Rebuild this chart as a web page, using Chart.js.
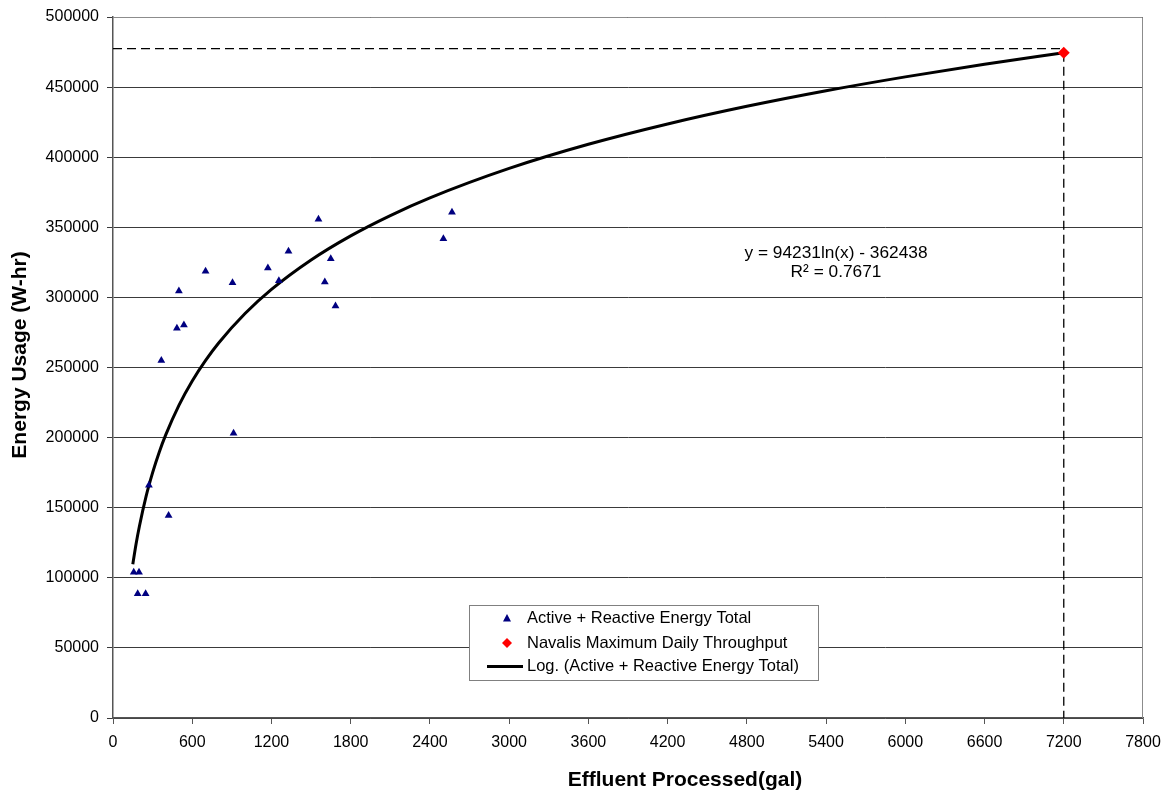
<!DOCTYPE html>
<html>
<head>
<meta charset="utf-8">
<script src="https://cdn.jsdelivr.net/npm/chart.js@4.4.1/dist/chart.umd.min.js"></script>
<style>
html,body{margin:0;padding:0;background:#fff;}
#wrap{width:1165px;height:793px;position:relative;}
</style>
</head>
<body>
<div id="wrap"><canvas id="c" width="1165" height="793"></canvas></div>
<script>
// Measured points: Active + Reactive Energy Total
const effluentX = [157, 197, 187, 247, 272, 421, 366, 484, 537, 499, 701, 905, 913, 1173, 1256, 1329, 1556, 1649, 1604, 1685, 2502, 2567];
const energyY = [104000, 104000, 88600, 88600, 166000, 144500, 255000, 278000, 280400, 304500, 318600, 310400, 203100, 321000, 311900, 332900, 355700, 327600, 311000, 293800, 341900, 360700];

// Navalis maximum daily throughput
const navalisX = [7200];
const navalisY = [474500];

// Logarithmic trend line
const trendX = [150, 175, 200, 250, 300, 350, 400, 500, 600, 700, 800, 1000, 1200, 1500, 1800, 2100, 2400, 3000, 3600, 4200, 4800, 5400, 6000, 6600, 7200];
const trendY = [109700, 124300, 136800, 157900, 175000, 189600, 202100, 223200, 240400, 254900, 267500, 288500, 305700, 326700, 343900, 358400, 371000, 392000, 409200, 423700, 436300, 447400, 457300, 466300, 474500];

// Dashed guide lines
const guideHX = [0, 7200];
const guideHY = [477500, 477500];
const guideVX = [7200, 7200];
const guideVY = [474500, 0];

const legendLabels = ['Active + Reactive Energy Total', 'Navalis Maximum Daily Throughput', 'Log. (Active + Reactive Energy Total)'];
const eqLines = ['y = 94231ln(x) - 362438', 'R\u00B2 = 0.7671'];
const xTitle = 'Effluent Processed(gal)';
const yTitle = 'Energy Usage (W-hr)';

const FONT = 'Arial, "Liberation Sans", sans-serif';
const toXY = (xs, ys) => xs.map((x, i) => ({x: x, y: ys[i]}));

const extras = {
  id: 'extras',
  afterDraw(chart) {
    const ctx = chart.ctx;
    const ca = chart.chartArea;
    ctx.save();
    // plot frame top / right
    ctx.strokeStyle = '#8c8c8c';
    ctx.lineWidth = 1;
    ctx.beginPath();
    ctx.moveTo(ca.left, ca.top + 0.5);
    ctx.lineTo(ca.right - 0.5, ca.top + 0.5);
    ctx.lineTo(ca.right - 0.5, ca.bottom);
    ctx.stroke();
    // axis titles
    ctx.fillStyle = '#000';
    ctx.font = 'bold 21px ' + FONT;
    ctx.textAlign = 'center';
    ctx.textBaseline = 'middle';
    ctx.fillText(xTitle, 685, 780);
    ctx.save();
    ctx.translate(20, 355);
    ctx.rotate(-Math.PI / 2);
    ctx.fillText(yTitle, 0, 0);
    ctx.restore();
    // equation
    ctx.font = '17.3px ' + FONT;
    ctx.fillText(eqLines[0], 836, 253);
    ctx.fillText(eqLines[1], 836, 272);
    // legend
    const lx = 469.5, ly = 605.5, lw = 349, lh = 75;
    ctx.fillStyle = '#fff';
    ctx.fillRect(lx, ly, lw, lh);
    ctx.strokeStyle = '#808080';
    ctx.strokeRect(lx, ly, lw, lh);
    const rows = [618.5, 643, 666.5];
    ctx.font = '16.5px ' + FONT;
    ctx.textAlign = 'left';
    ctx.fillStyle = '#000';
    legendLabels.forEach((t, i) => ctx.fillText(t, 527, rows[i]));
    // markers
    ctx.fillStyle = '#000080';
    ctx.beginPath();
    ctx.moveTo(507, rows[0] - 4.5);
    ctx.lineTo(511, rows[0] + 3);
    ctx.lineTo(503, rows[0] + 3);
    ctx.closePath();
    ctx.fill();
    ctx.fillStyle = '#ff0000';
    ctx.beginPath();
    ctx.moveTo(507, rows[1] - 5);
    ctx.lineTo(512, rows[1]);
    ctx.lineTo(507, rows[1] + 5);
    ctx.lineTo(502, rows[1]);
    ctx.closePath();
    ctx.fill();
    ctx.strokeStyle = '#000';
    ctx.lineWidth = 3;
    ctx.beginPath();
    ctx.moveTo(487, rows[2]);
    ctx.lineTo(523, rows[2]);
    ctx.stroke();
    ctx.restore();
  }
};

new Chart(document.getElementById('c'), {
  type: 'scatter',
  data: {
    datasets: [
      {
        label: 'guideH', data: toXY(guideHX, guideHY), showLine: true,
        borderColor: '#000', borderWidth: 1.3, borderDash: [9, 5], pointRadius: 0, fill: false, order: 5
      },
      {
        label: 'guideV', data: toXY(guideVX, guideVY), showLine: true,
        borderColor: '#000', borderWidth: 1.3, borderDash: [9, 5], pointRadius: 0, fill: false, order: 5
      },
      {
        label: legendLabels[2], data: toXY(trendX, trendY), showLine: true,
        borderColor: '#000', borderWidth: 3, pointRadius: 0, fill: false, cubicInterpolationMode: 'monotone', order: 3
      },
      {
        label: legendLabels[0], data: toXY(effluentX, energyY),
        pointStyle: 'triangle', pointRadius: 4.5, backgroundColor: '#000080', borderColor: '#000080', borderWidth: 0, order: 2
      },
      {
        label: legendLabels[1], data: toXY(navalisX, navalisY),
        pointStyle: 'rectRot', pointRadius: 6, backgroundColor: '#ff0000', borderColor: '#ff0000', borderWidth: 0, order: 1
      }
    ]
  },
  options: {
    responsive: false,
    animation: false,
    layout: {padding: {left: 0, right: 22, top: 17, bottom: 0}},
    plugins: {legend: {display: false}, tooltip: {enabled: false}},
    scales: {
      x: {
        type: 'linear', min: 0, max: 7800,
        afterFit(s) { s.height = 75; s.paddingRight = 0; s.paddingLeft = 0; },
        ticks: {stepSize: 600, color: '#000', font: {family: FONT, size: 16}, padding: 9, maxRotation: 0,
          callback: (v) => String(v)},
        grid: {drawOnChartArea: false, drawTicks: true, tickLength: 6, color: '#555', lineWidth: 1},
        border: {color: '#555', width: 1.5},
        title: {display: false}
      },
      y: {
        type: 'linear', min: 0, max: 500000,
        afterFit(s) { s.width = 113; s.paddingTop = 0; s.paddingBottom = 0; },
        ticks: {stepSize: 50000, color: '#000', font: {family: FONT, size: 16}, padding: 8,
          callback: (v) => String(v)},
        grid: {drawOnChartArea: true, drawTicks: true, tickLength: 6, color: '#3a3a3a', lineWidth: 1},
        border: {color: '#555', width: 1.5},
        title: {display: false}
      }
    }
  },
  plugins: [extras]
});
</script>
</body>
</html>
